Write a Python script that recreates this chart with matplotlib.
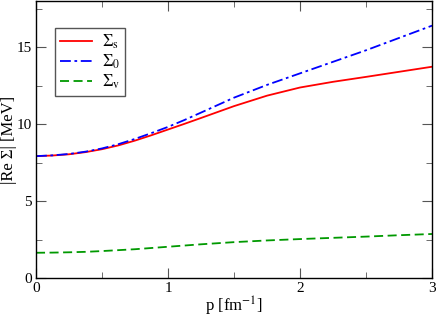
import matplotlib
matplotlib.use("Agg")
import matplotlib.pyplot as plt
from matplotlib.ticker import MultipleLocator

p = [0.0, 0.125, 0.25, 0.375, 0.5, 0.625, 0.75, 0.875, 1.0, 1.125, 1.25, 1.5, 1.75, 2.0, 2.25, 2.5, 2.75, 3.0]
sigma_s = [7.92, 7.96, 8.04, 8.18, 8.37, 8.62, 8.93, 9.28, 9.65, 10.02, 10.40, 11.17, 11.85, 12.38, 12.75, 13.07, 13.40, 13.73]
sigma_0 = [7.92, 7.97, 8.06, 8.21, 8.42, 8.70, 9.04, 9.42, 9.82, 10.27, 10.75, 11.72, 12.55, 13.30, 14.05, 14.80, 15.60, 16.40]
sigma_v = [1.64, 1.65, 1.67, 1.70, 1.75, 1.81, 1.87, 1.95, 2.03, 2.11, 2.19, 2.33, 2.44, 2.53, 2.61, 2.69, 2.78, 2.86]

plt.rcParams['font.family'] = ['Liberation Serif', 'DejaVu Serif']
plt.rcParams['mathtext.fontset'] = 'stix'

fig = plt.figure(figsize=(4.36, 3.18), dpi=100)
ax = fig.add_axes([0.0826, 0.1258, 0.9084, 0.871])

ax.plot(p, sigma_s, color='#ff0000', lw=1.3, label=r'$\Sigma_{\rm s}$')
ax.plot(p, sigma_0, color='#0000ff', lw=1.3, dashes=[6, 2, 1.5, 2], label=r'$\Sigma_{0}$')
ax.plot(p, sigma_v, color='#009900', lw=1.3, dashes=[5, 2.5], label=r'$\Sigma_{\rm v}$')

ax.set_xlim(0, 3)
ax.set_ylim(0, 18)
ax.xaxis.set_major_locator(MultipleLocator(1))
ax.xaxis.set_minor_locator(MultipleLocator(0.5))
ax.yaxis.set_major_locator(MultipleLocator(5))
ax.yaxis.set_minor_locator(MultipleLocator(2.5))
ax.tick_params(which='both', direction='in', top=True, right=True, labelsize=11, color='#555555', pad=3)
ax.tick_params(which='major', length=7)
ax.tick_params(which='minor', length=4)
for s in ax.spines.values():
    s.set_linewidth(1.0)

ax.set_xlabel(r'p [fm$^{-1}$]', fontsize=12, labelpad=0)
ax.set_ylabel('|Re Σ| [MeV]', fontsize=12)
ax.yaxis.set_label_coords(-0.047, 0.5)

leg = ax.legend(loc='upper left', bbox_to_anchor=(0.048, 0.903), borderaxespad=0,
                fancybox=False, edgecolor='#555555', framealpha=1, fontsize=12,
                handlelength=1.9, handletextpad=0.6, borderpad=0.3, labelspacing=0.1)
leg.get_frame().set_linewidth(1.0)

fig.savefig('out.png', dpi=100)
